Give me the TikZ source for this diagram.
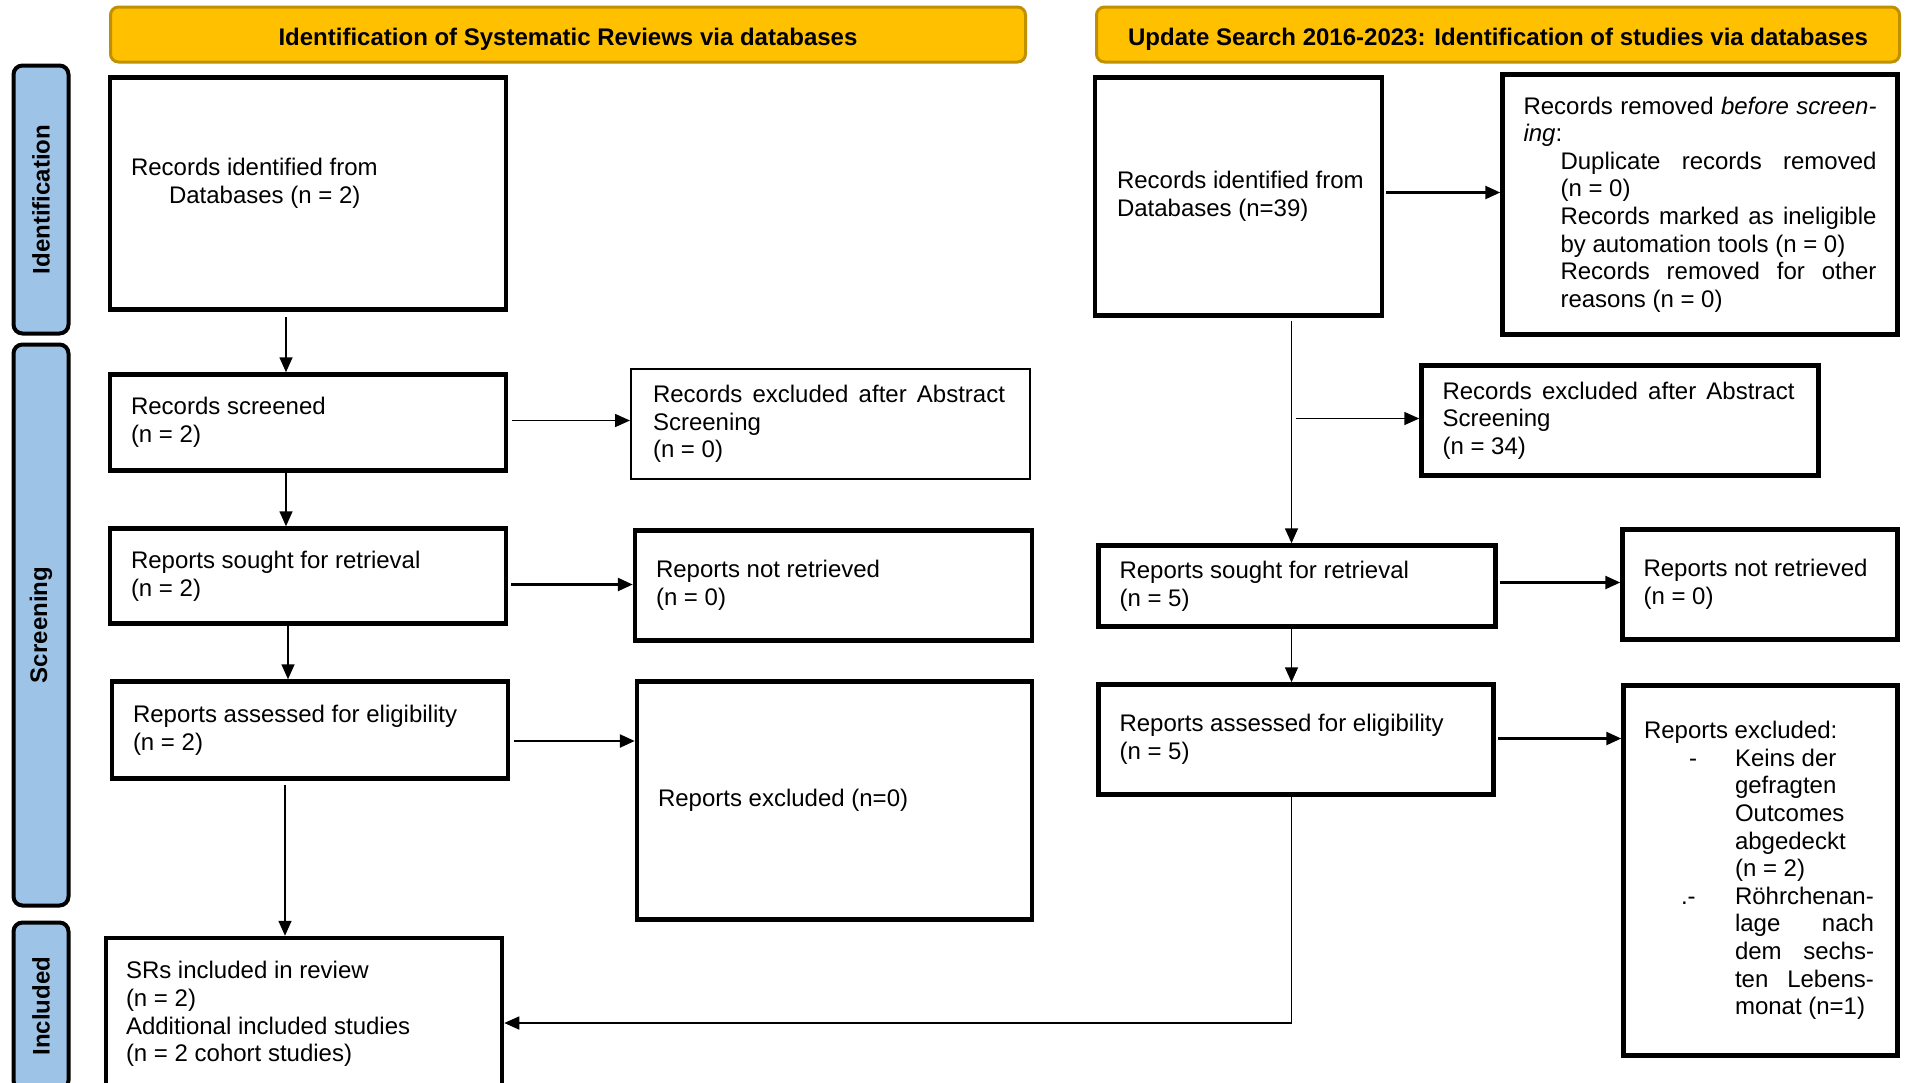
\documentclass[tikz,border=0pt]{standalone}
\usepackage{fontspec}
\setmainfont{Liberation Sans}
\usetikzlibrary{arrows.meta,calc}
\definecolor{hdrfill}{HTML}{FFC000}
\definecolor{hdrdraw}{HTML}{BF9000}
\definecolor{sidefill}{HTML}{9DC3E6}
\newcommand\jline[2]{{\spaceskip=0pt\xspaceskip=0pt\makebox[#1][s]{#2}}}
\begin{document}
\begin{tikzpicture}[x=1pt,y=-1pt,
  every node/.style={font=\fontsize{24}{27.6}\selectfont},
  box/.style={draw, line width=4.5pt, inner xsep=21pt, inner ysep=0pt, align=flush left, rectangle},
  thinbox/.style={box, line width=2pt},
  hdr/.style={draw=hdrdraw, fill=hdrfill, line width=3pt, rounded corners=8pt, font=\fontsize{24}{27.6}\selectfont\bfseries, inner sep=0pt, text height=24pt, text depth=3pt},
  side/.style={draw=black, fill=sidefill, line width=4pt, rounded corners=9pt, font=\fontsize{24}{27.6}\selectfont\bfseries, inner sep=0pt, rotate=90},
  arr/.style={line width=1.6pt, -{Triangle[length=15pt,width=13pt]}},
  arrb/.style={arr, line width=2.5pt},
]
\useasboundingbox (0,0) rectangle (1905,1082);
\clip (0,0) rectangle (1905,1082);

% headers
\node[hdr, minimum width=915pt, minimum height=55pt] (H1) at (568,34.5) {Identification of Systematic Reviews via databases};
\node[hdr, minimum width=803pt, minimum height=55pt] (H2) at (1498,34.5) {Update Search 2016-2023: Identification of studies via databases};

% side bars
\node[side, minimum width=268pt, minimum height=55pt] (S1) at (41,199.5) {Identification};
\node[side, minimum width=561pt, minimum height=55pt] (S2) at (41,625) {Screening};
\node[side, minimum width=167pt, minimum height=55pt] (S3) at (41,1006) {Included};

% left column
\node[box, minimum width=396pt, minimum height=232pt, text width=354pt] (A1) at (308,193.5)
  {Records identified from\\\hspace*{38pt}Databases (n = 2)\\[-10pt]\strut};
\node[box, minimum width=396pt, minimum height=96pt, text width=354pt] (A2) at (308,422.5)
  {Records screened\\(n = 2)};
\node[thinbox, minimum width=399pt, minimum height=110pt, text width=355pt, inner xsep=22pt] (A2x) at (830.5,424)
  {\jline{352pt}{Records excluded after Abstract}\\Screening\\(n = 0)};
\node[box, minimum width=396pt, minimum height=95pt, text width=354pt] (A3) at (308,576)
  {Reports sought for retrieval\\(n = 2)};
\node[box, minimum width=397pt, minimum height=110pt, text width=355pt] (A3x) at (833.5,585.5)
  {Reports not retrieved\\(n = 0)};
\node[box, minimum width=396pt, minimum height=97pt, text width=354pt] (A4) at (310,730)
  {Reports assessed for eligibility\\(n = 2)};
\node[box, minimum width=395pt, minimum height=238pt, text width=353pt] (A4x) at (834.5,800.5)
  {Reports excluded (n=0)};
\node[box, minimum width=396pt, minimum height=152pt, text width=356pt, inner xsep=20pt] (A5) at (304,1014)
  {SRs included in review\\(n = 2)\\Additional included studies\\(n = 2 cohort studies)};

% right column
\node[box, minimum width=287pt, minimum height=238pt, text width=253pt, inner xsep=17pt] (B1) at (1238.5,196.5)
  {\hspace*{5pt}Records identified from\\\hspace*{5pt}Databases (n=39)};
\node[box, minimum width=395pt, minimum height=260pt, text width=353pt] (B1x) at (1700,204.5)
  {\jline{353pt}{Records removed \textit{before screen-}}\\
   \textit{ing}:\\
   \hspace*{37pt}\jline{316pt}{Duplicate records removed}\\
   \hspace*{37pt}(n = 0)\\
   \hspace*{37pt}\jline{316pt}{Records marked as ineligible}\\
   \hspace*{37pt}by automation tools (n = 0)\\
   \hspace*{37pt}\jline{316pt}{Records removed for other}\\
   \hspace*{37pt}reasons (n = 0)};
\node[box, minimum width=397pt, minimum height=110pt, text width=355pt] (B2x) at (1620,420.5)
  {\jline{352pt}{Records excluded after Abstract}\\Screening\\(n = 34)};
\node[box, minimum width=397pt, minimum height=81pt, text width=355pt] (B3) at (1297,586)
  {Reports sought for retrieval\\(n = 5)};
\node[box, minimum width=275pt, minimum height=110pt, text width=233pt] (B3x) at (1760,584.5)
  {Reports not retrieved\\(n = 0)};
\node[box, minimum width=395pt, minimum height=110pt, text width=353pt] (B4) at (1296,739.5)
  {Reports assessed for eligibility\\(n = 5)};
\node[box, minimum width=274pt, minimum height=370pt, text width=233pt, inner xsep=20.5pt] (B4x) at (1760.5,870.5)
  {Reports excluded:\\
   \hspace*{45pt}\makebox[46pt][l]{-}Keins der\\
   \hspace*{91pt}gefragten\\
   \hspace*{91pt}Outcomes\\
   \hspace*{91pt}abgedeckt\\
   \hspace*{91pt}(n = 2)\\
   \hspace*{37pt}\makebox[54pt][l]{.-}Röhrchenan-\\
   \hspace*{91pt}\jline{139pt}{lage nach}\\
   \hspace*{91pt}\jline{139pt}{dem sechs-}\\
   \hspace*{91pt}\jline{139pt}{ten Lebens-}\\
   \hspace*{91pt}monat (n=1)};

% left arrows
\draw[arr] ($(A1.south)+(-22,5)$) -- ($(A2.north)+(-22,0)$);
\draw[arr] ($(A2.south)+(-22,0)$) -- ($(A3.north)+(-22,0)$);
\draw[arr] ($(A3.south)+(-20,0)$) -- ($(A3.south |- A4.north)+(-20,0)$);
\draw[arr] ($(A4.south)+(-25,4)$) -- ($(A4.south |- A5.north)+(-25,0)$);
\draw[arr] ($(A2.east)+(4,-2)$) -- ($(A2.east -| A2x.west)+(0,-2)$);
\draw[arrb] ($(A3.east |- A3x.west)+(3,-1)$) -- ($(A3x.west)+(0,-1)$);
\draw[arrb] ($(A4.east)+(4,11)$) -- ($(A4.east -| A4x.west)+(0,11)$);

% right arrows
\draw[arrb] ($(B1.east)+(2,-4)$) -- ($(B1.east -| B1x.west)+(0,-4)$);
\draw[arr] ($(B1.south -| B3.north)+(-5.5,3)$) -- ($(B3.north)+(-5.5,0)$);
\draw[arr] ($(B3.north |- B2x.west)+(-1,-2)$) -- ($(B2x.west)+(0,-2)$);
\draw[arr] ($(B3.south)+(-5.5,0)$) -- ($(B3.south |- B4.north)+(-5.5,0)$);
\draw[arrb] ($(B3.east |- B3x.west)+(2,-2)$) -- ($(B3x.west)+(0,-2)$);
\draw[arrb] ($(B4.east)+(2,-1)$) -- ($(B4.east -| B4x.west)+(0,-1)$);
\draw[arr] ($(B4.south)+(-4.5,0)$) |- ($(A5.east)+(0,9)$);
\end{tikzpicture}
\end{document}
